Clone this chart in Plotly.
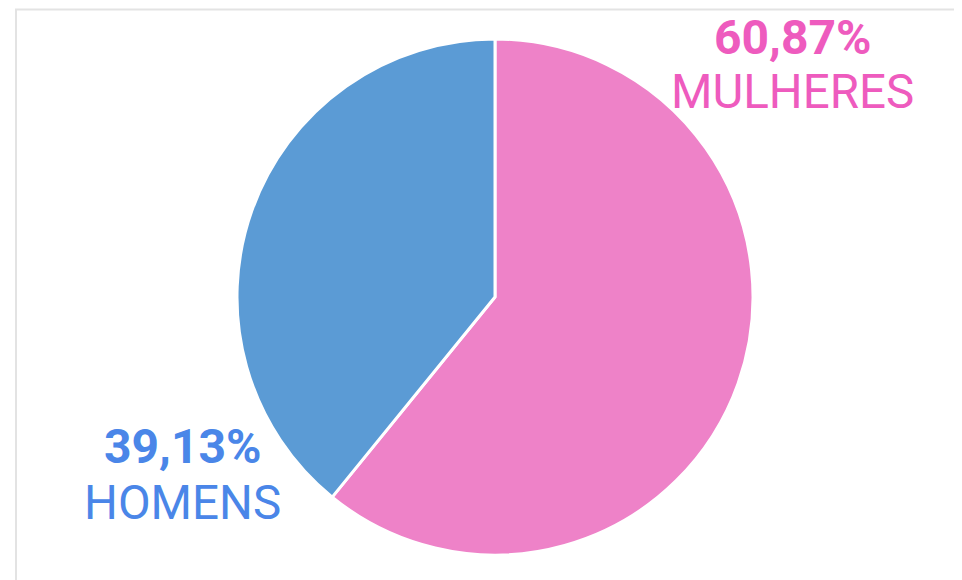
import plotly.graph_objects as go

categories = ["MULHERES", "HOMENS"]
values = [60.87, 39.13]
slice_colors = ["#EE82C8", "#5B9BD5"]
label_colors = ["#EE5BBE", "#4A86E8"]

W, H = 962, 580
OFF = 8  # default page margin in the browser
cx, cy, r = 495 - OFF, 297 - OFF, 258

fig = go.Figure(go.Pie(
    labels=categories, values=values, sort=False, direction="clockwise",
    rotation=0, textinfo="none", hoverinfo="label+percent",
    marker=dict(colors=slice_colors, line=dict(color="white", width=3)),
    showlegend=False,
    domain=dict(x=[(cx - r) / W, (cx + r) / W], y=[(H - cy - r) / H, (H - cy + r) / H]),
))

def fmt(v):
    return f"{v:.2f}".replace(".", ",") + "%"

label_pos = [(792 - OFF, 38 - OFF, 92 - OFF), (182 - OFF, 446 - OFF, 503 - OFF)]
anns = []
for cat, v, col, (x, y1, y2) in zip(categories, values, label_colors, label_pos):
    anns.append(dict(x=x / W, y=1 - y1 / H, xref="paper", yref="paper", text=f"<b>{fmt(v)}</b>",
                     showarrow=False, font=dict(family="Roboto", size=48, color=col),
                     xanchor="center", yanchor="middle"))
    anns.append(dict(x=x / W, y=1 - y2 / H, xref="paper", yref="paper", text=cat,
                     showarrow=False, font=dict(family="Roboto", size=47.5, color=col),
                     xanchor="center", yanchor="middle"))

shapes = [
    dict(type="line", xref="paper", yref="paper", x0=7 / W, x1=1, y0=1 - 1.5 / H, y1=1 - 1.5 / H,
         line=dict(color="#E3E3E3", width=2)),
    dict(type="line", xref="paper", yref="paper", x0=8 / W, x1=8 / W, y0=0, y1=1 - 1 / H,
         line=dict(color="#E3E3E3", width=2)),
]

fig.update_layout(width=W, height=H, margin=dict(l=0, r=0, t=0, b=0),
                  paper_bgcolor="white", plot_bgcolor="white",
                  annotations=anns, shapes=shapes)
fig.write_html("out.html")
